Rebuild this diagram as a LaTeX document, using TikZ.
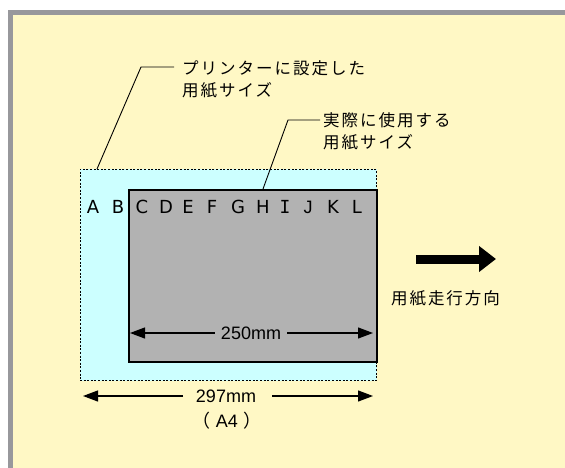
\documentclass[tikz,border=0pt]{standalone}
\usepackage{fontspec}
\setmainfont{Liberation Sans}
\newfontfamily\jpfont[LetterSpace=12]{Noto Sans CJK JP}
\newfontfamily\jpplain{Noto Sans CJK JP}
\newfontfamily\dvfont{DejaVu Sans}
\newfontfamily\dvmono{DejaVu Sans Mono}
\usetikzlibrary{arrows.meta}
\definecolor{bgyellow}{RGB}{255,248,197}
\definecolor{framegray}{RGB}{152,152,156}
\definecolor{papercyan}{RGB}{204,255,255}
\definecolor{papergray}{RGB}{178,178,178}
\begin{document}
\begin{tikzpicture}[x=1pt,y=-1pt,
  jplabel/.style={font=\jpfont\fontsize{16.5}{22}\selectfont, inner sep=0pt, align=left},
  letter/.style={font=\dvfont\fontsize{18}{20}\selectfont, inner sep=0pt, anchor=base, text height=13pt},
  dimtext/.style={font=\fontsize{18}{20}\selectfont},
  leader/.style={draw=black, line width=0.9pt},
  dimarrow/.style={draw=black, line width=1.2pt, -{Triangle[length=15pt,width=11pt]}},
  printerpaper/.style={fill=papercyan, draw=black, line width=1pt, dash pattern=on 2pt off 1.6pt, inner sep=0pt, anchor=north west},
  usedpaper/.style={fill=papergray, draw=black, line width=2pt, inner sep=0pt, anchor=north west}
]
\useasboundingbox (0,0) rectangle (565,468);
\fill[white] (0,0) rectangle (565,468);
\fill[framegray] (8,10) rectangle (565,468);
\fill[bgyellow] (13,15) rectangle (565,468);

% papers
\node[printerpaper, minimum width=296.5pt, minimum height=211pt] (pr) at (79.5,169) {};
\node[usedpaper, minimum width=248pt, minimum height=172pt] (used) at (128,189) {};

% letters
\foreach \l/\x [count=\i from 0] in {A/93,B/118,C/142,D/166,E/188,F/212,G/238,H/263,{{\dvmono I}}/285,{{\fontspec{Liberation Sans}J}}/308,K/333,L/357}
  \node[letter] (let\i) at (\x,213) {\l};

% labels
\node[jplabel, anchor=west] (lab1) at (182,79) {プリンターに設定した\\用紙サイズ};
\node[jplabel, anchor=west] (lab2) at (323,131) {実際に使用する\\用紙サイズ};

\coordinate (p1) at (97,169);
\coordinate (k1) at (141,67);
\coordinate (e1) at (174,67);
\draw[leader] (p1) -- (k1) -- (e1);

\coordinate (p2) at (263,189);
\coordinate (k2) at (288,120);
\coordinate (e2) at (320,120);
\draw[leader] (p2) -- (k2) -- (e2);

% direction arrow
\coordinate (da) at (416,259);
\coordinate (db) at (496,259);
\draw[line width=9pt, -{Triangle[length=17pt,width=25pt]}] (da) -- (db);
\node[font=\jpfont\fontsize{16.5}{22}\selectfont, inner sep=0pt] (dir) at (445.5,298) {用紙走行方向};

% 250mm
\node[dimtext, inner sep=6pt] (t250) at (251,333) {250mm};
\coordinate (a250l) at (130,333);
\coordinate (a250r) at (373,333);
\draw[dimarrow] (t250) -- (a250l);
\draw[dimarrow] (t250) -- (a250r);

% 297mm
\node[dimtext, inner sep=0pt] (t297) at (226,396) {297mm};
\coordinate (b297l) at (183,396);
\coordinate (b297r) at (272,396);
\coordinate (a297l) at (83,396);
\coordinate (a297r) at (373,396);
\draw[dimarrow] (b297l) -- (a297l);
\draw[dimarrow] (b297r) -- (a297r);
\node[dimtext, inner sep=0pt] (a4) at (227,421) {{\jpplain （}\kern5pt A4\kern5pt{\jpplain ）}};
\end{tikzpicture}
\end{document}
